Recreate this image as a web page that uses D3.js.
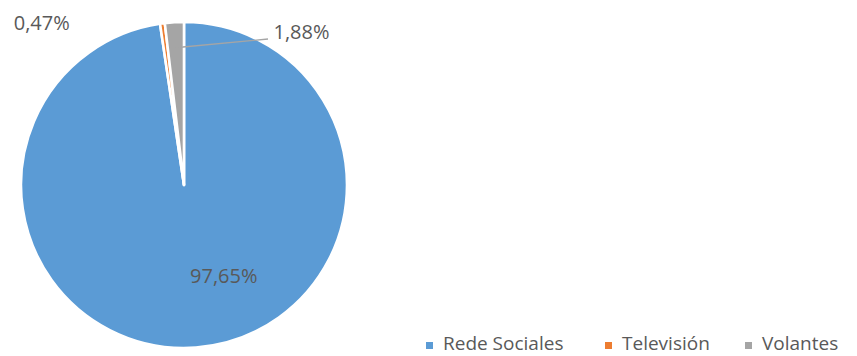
<!DOCTYPE html>
<html>
<head>
<meta charset="utf-8">
<script src="https://cdn.jsdelivr.net/npm/d3@7"></script>
<style>
  html, body { margin: 0; padding: 0; background: #fff; }
  svg text { font-family: "Open Sans", "Noto Sans", sans-serif; fill: #595959; }
</style>
</head>
<body>
<svg id="chart" width="857" height="356"></svg>
<script>
// Share of responses per channel
const categories = ["Rede Sociales", "Televisión", "Volantes"];
const values = [97.65, 0.47, 1.88];
const labels = ["97,65%", "0,47%", "1,88%"];
const colors = ["#5B9BD5", "#ED7D31", "#A5A5A5"];

const W = 857, H = 356;
const cx = 184, cy = 185, R = 163;

const svg = d3.select("#chart");
const g = svg.append("g").attr("transform", `translate(${cx},${cy})`);

const pie = d3.pie().sort(null).value(d => d)(values);
const arc = d3.arc().innerRadius(0).outerRadius(R);

g.selectAll("path.slice")
  .data(pie)
  .join("path")
  .attr("class", "slice")
  .attr("d", arc)
  .attr("fill", (d, i) => colors[i])
  .attr("stroke", "#fff")
  .attr("stroke-width", 2.6)
  .attr("stroke-linejoin", "round");

// label placement: polar angle (deg, clockwise from top) and radius
const labelPos = [
  { ang: 156.3, r: 99 },
  { ang: -41.2, r: 216 },
  { ang: 37.5, r: 193 }
];
const polar = (a, r) => [r * Math.sin(a * Math.PI / 180), -r * Math.cos(a * Math.PI / 180)];

// leader line for the Volantes slice
{
  const d = pie[2];
  const mid = (d.startAngle + d.endAngle) / 2;
  const p0 = [138 * Math.sin(mid), -138 * Math.cos(mid)];
  const p0b = [-1, -138];
  const p1 = [84, -146];
  g.append("polyline")
    .attr("points", [p0, p0b, p1].map(p => p.join(",")).join(" "))
    .attr("fill", "none")
    .attr("stroke", "#A5A5A5")
    .attr("stroke-width", 1.3);
}

g.selectAll("text.lbl")
  .data(labelPos)
  .join("text")
  .attr("class", "lbl")
  .attr("x", d => polar(d.ang, d.r)[0])
  .attr("y", d => polar(d.ang, d.r)[1])
  .attr("text-anchor", "middle")
  .attr("dominant-baseline", "central")
  .attr("font-size", 20)
  .text((d, i) => labels[i]);

// legend
const legendX = [426, 605, 745];
const lg = svg.append("g");
categories.forEach((c, i) => {
  lg.append("rect")
    .attr("x", legendX[i]).attr("y", 342)
    .attr("width", 7).attr("height", 7)
    .attr("fill", colors[i]);
  lg.append("text")
    .attr("x", legendX[i] + 17).attr("y", 350)
    .attr("font-size", 19)
    .text(c);
});
</script>
</body>
</html>
